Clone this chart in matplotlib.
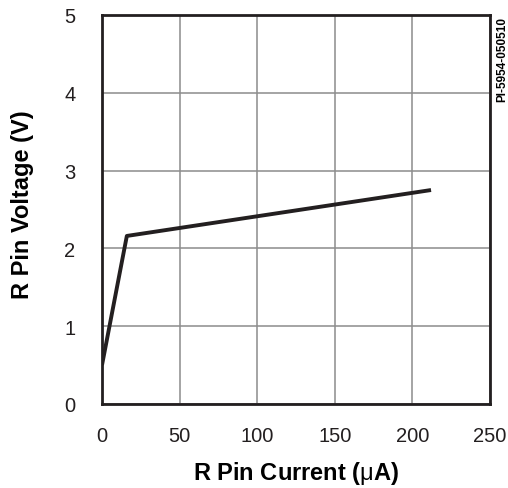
import matplotlib.pyplot as plt

plt.rcParams['font.family'] = ['Liberation Sans', 'DejaVu Sans']
plt.rcParams['mathtext.fontset'] = 'custom'
plt.rcParams['mathtext.rm'] = 'Liberation Sans'

# curve points
current_ua = [0, 16, 212]
voltage_v = [0.5, 2.16, 2.75]

x_ticks = [0, 50, 100, 150, 200, 250]
y_ticks = [0, 1, 2, 3, 4, 5]

fig = plt.figure(figsize=(5.08, 4.89), dpi=100)
ax = fig.add_axes([0.2008, 0.1718, 0.7638, 0.7955])

ax.plot(current_ua, voltage_v, color='#231f20', linewidth=2.8, solid_capstyle='butt')

ax.set_xlim(0, 250)
ax.set_ylim(0, 5)
ax.set_xticks(x_ticks)
ax.set_yticks(y_ticks)
ax.tick_params(length=0, labelsize=14.5, colors='#231f20')
ax.tick_params(axis='x', pad=16)
ax.tick_params(axis='y', pad=19)
ax.grid(color='#8c8c8c', linewidth=1.1)
ax.set_axisbelow(True)
for s in ax.spines.values():
    s.set_linewidth(2.0)
    s.set_color('#231f20')

ax.set_xlabel(r'R Pin Current ($\mathrm{\mu}$A)', fontsize=17, fontweight='bold', labelpad=10)
ax.set_ylabel('R Pin Voltage (V)', fontsize=17, fontweight='bold', labelpad=22, y=0.514)

fig.text(0.989, 0.965, 'PI-5954-050510', rotation=90, fontsize=8.5, fontweight='bold',
         ha='center', va='top')

fig.savefig('out.png', dpi=100)
